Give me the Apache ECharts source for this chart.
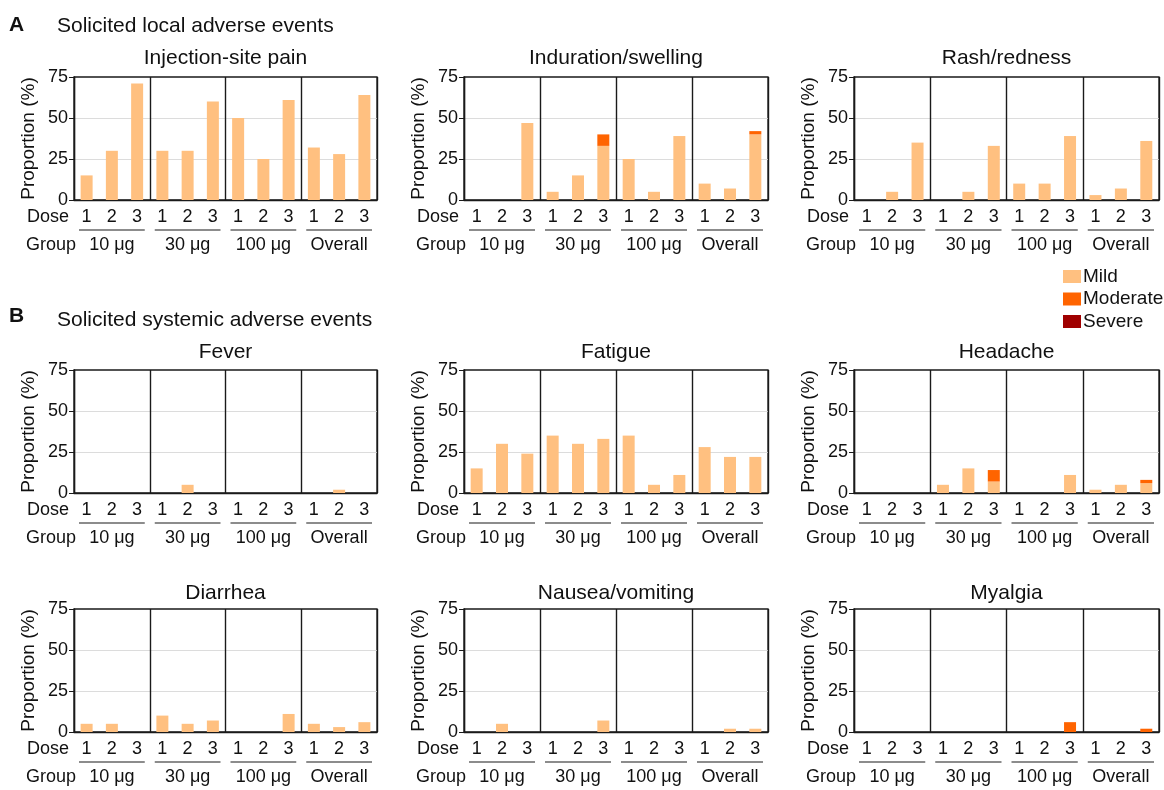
<!DOCTYPE html>
<html>
<head>
<meta charset="utf-8">
<script src="https://cdn.jsdelivr.net/npm/echarts@6/dist/echarts.min.js"></script>
<style>
  html, body { margin: 0; padding: 0; background: #fff; }
  #chart { width: 1164px; height: 790px; }
</style>
</head>
<body>
<div id="chart"></div>
<script>
const doses = ['1', '2', '3']
const groups = ['10 μg', '30 μg', '100 μg', 'Overall']
const yTicks = [0, 25, 50, 75]
const levels = ['Mild', 'Moderate', 'Severe']
const panelTitles = [
  'Injection-site pain', 'Induration/swelling', 'Rash/redness',
  'Fever', 'Fatigue', 'Headache',
  'Diarrhea', 'Nausea/vomiting', 'Myalgia'
]

// values per panel, in order 10 μg d1-d3, 30 μg d1-d3, 100 μg d1-d3, Overall d1-d3
const painMild = [15, 30, 71, 30, 30, 60, 50, 25, 61, 32, 28, 64]
const painModerate = [0, 0, 0, 0, 0, 0, 0, 0, 0, 0, 0, 0]
const swellingMild = [0, 0, 47, 5, 15, 33, 25, 5, 39, 10, 7, 40]
const swellingModerate = [0, 0, 0, 0, 0, 7, 0, 0, 0, 0, 0, 2]
const rashMild = [0, 5, 35, 0, 5, 33, 10, 10, 39, 3, 7, 36]
const rashModerate = [0, 0, 0, 0, 0, 0, 0, 0, 0, 0, 0, 0]
const feverMild = [0, 0, 0, 0, 5, 0, 0, 0, 0, 0, 2, 0]
const feverModerate = [0, 0, 0, 0, 0, 0, 0, 0, 0, 0, 0, 0]
const fatigueMild = [15, 30, 24, 35, 30, 33, 35, 5, 11, 28, 22, 22]
const fatigueModerate = [0, 0, 0, 0, 0, 0, 0, 0, 0, 0, 0, 0]
const headacheMild = [0, 0, 0, 5, 15, 7, 0, 0, 11, 2, 5, 6]
const headacheModerate = [0, 0, 0, 0, 0, 7, 0, 0, 0, 0, 0, 2]
const diarrheaMild = [5, 5, 0, 10, 5, 7, 0, 0, 11, 5, 3, 6]
const diarrheaModerate = [0, 0, 0, 0, 0, 0, 0, 0, 0, 0, 0, 0]
const nauseaMild = [0, 5, 0, 0, 0, 7, 0, 0, 0, 0, 2, 2]
const nauseaModerate = [0, 0, 0, 0, 0, 0, 0, 0, 0, 0, 0, 0]
const myalgiaMild = [0, 0, 0, 0, 0, 0, 0, 0, 0, 0, 0, 0]
const myalgiaModerate = [0, 0, 0, 0, 0, 0, 0, 0, 6, 0, 0, 2]
const severeAll = [0, 0, 0, 0, 0, 0, 0, 0, 0, 0, 0, 0]

const panelData = [
  [painMild, painModerate, severeAll],
  [swellingMild, swellingModerate, severeAll],
  [rashMild, rashModerate, severeAll],
  [feverMild, feverModerate, severeAll],
  [fatigueMild, fatigueModerate, severeAll],
  [headacheMild, headacheModerate, severeAll],
  [diarrheaMild, diarrheaModerate, severeAll],
  [nauseaMild, nauseaModerate, severeAll],
  [myalgiaMild, myalgiaModerate, severeAll]
]

const colors = ['#ffc080', '#ff6400', '#a00000']
const font = "'Liberation Sans', Arial, Helvetica, sans-serif"
const ink = '#111'

// layout of the 3x3 panels (px)
const colLeft = [74, 464, 854]
const colWidth = [303, 304, 305]
const rowTop = [77, 370, 609]
const rowHeight = 123
const titleY = [58, 352, 593]

const cats = []
groups.forEach((g) => doses.forEach((d) => cats.push(g + '|' + d)))

const grid = []
const xAxis = []
const yAxis = []
const series = []

panelTitles.forEach((t, i) => {
  const row = Math.floor(i / 3)
  const col = i % 3
  grid.push({
    left: colLeft[col],
    top: rowTop[row],
    width: colWidth[col],
    height: rowHeight,
    show: true,
    borderColor: '#1a1a1a',
    borderWidth: 1.3,
    backgroundColor: 'transparent'
  })
  xAxis.push({
    type: 'category',
    gridIndex: i,
    data: cats,
    axisLine: { lineStyle: { color: '#1a1a1a', width: 1.3 } },
    axisTick: { alignWithLabel: true, length: 5, interval: 0, lineStyle: { color: '#1a1a1a' } },
    axisLabel: {
      interval: 0,
      margin: 8,
      fontSize: 18,
      color: ink,
      fontFamily: font,
      formatter: (v) => v.split('|')[1]
    },
    splitLine: { show: false }
  })
  xAxis.push({
    type: 'category',
    gridIndex: i,
    position: 'bottom',
    offset: 30,
    data: groups,
    axisLine: { show: false },
    axisTick: { show: false, interval: 0 },
    axisLabel: { interval: 0, margin: 6, fontSize: 18, color: ink, fontFamily: font },
    splitLine: { show: true, interval: 0, lineStyle: { color: '#1a1a1a', width: 1.4 } }
  })
  yAxis.push({
    type: 'value',
    gridIndex: i,
    min: yTicks[0],
    max: yTicks[yTicks.length - 1],
    interval: 25,
    name: 'Proportion (%)',
    nameLocation: 'middle',
    nameGap: 36,
    nameTextStyle: { fontSize: 19, color: ink, fontFamily: font },
    axisLine: { show: true, lineStyle: { color: '#1a1a1a', width: 1.3 } },
    axisTick: { show: true, length: 5, lineStyle: { color: '#1a1a1a' } },
    axisLabel: { margin: 6, fontSize: 18, color: ink, fontFamily: font },
    splitLine: {
      show: true,
      showMinLine: false,
      showMaxLine: false,
      lineStyle: { color: '#dcdcdc', width: 1 }
    }
  })
  levels.forEach((name, k) => {
    series.push({
      name: name,
      type: 'bar',
      stack: 'p' + i,
      xAxisIndex: i * 2,
      yAxisIndex: i,
      barWidth: 12,
      data: panelData[i][k],
      itemStyle: { color: colors[k] },
      emphasis: { disabled: true }
    })
  })
})

const chart = echarts.init(document.getElementById('chart'), null, { renderer: 'canvas' })
chart.setOption({
  animation: false,
  backgroundColor: '#fff',
  textStyle: { fontFamily: font },
  legend: {
    data: levels,
    orient: 'vertical',
    left: 1063,
    top: 267,
    itemWidth: 18,
    itemHeight: 13,
    itemGap: 3.5,
    icon: 'rect',
    padding: 0,
    textStyle: { fontSize: 19, color: ink, fontFamily: font, padding: [0, 0, 0, -3] }
  },
  grid: grid,
  xAxis: xAxis,
  yAxis: yAxis,
  series: series
})

// texts and group underlines, placed from the axes' own scales
const graphic = []
const txt = (x, y, text, size, opts) => graphic.push({
  type: 'text',
  x: x,
  y: y,
  style: Object.assign({
    text: text,
    font: 'normal ' + size + 'px ' + font,
    fill: ink,
    textAlign: 'left',
    textVerticalAlign: 'middle'
  }, opts || {})
})

txt(9, 25, 'A', 21, { font: 'bold 21px ' + font })
txt(57, 26, 'Solicited local adverse events', 21)
txt(9, 316, 'B', 21, { font: 'bold 21px ' + font })
txt(57, 320, 'Solicited systemic adverse events', 21)

panelTitles.forEach((t, i) => {
  const row = Math.floor(i / 3)
  const col = i % 3
  const base = chart.convertToPixel({ yAxisIndex: i }, 0)
  const left = colLeft[col]
  txt(left + colWidth[col] / 2, titleY[row], t, 21, { textAlign: 'center' })
  txt(left - 47, base + 17, 'Dose', 18)
  txt(left - 48, base + 45, 'Group', 18)
  const c0 = chart.convertToPixel({ xAxisIndex: i * 2 + 1 }, groups[0])
  const c1 = chart.convertToPixel({ xAxisIndex: i * 2 + 1 }, groups[1])
  const w = c1 - c0
  groups.forEach((g) => {
    const c = chart.convertToPixel({ xAxisIndex: i * 2 + 1 }, g)
    graphic.push({
      type: 'line',
      shape: { x1: c - w / 2 + 5, y1: base + 30, x2: c + w / 2 - 5, y2: base + 30 },
      style: { stroke: '#1a1a1a', lineWidth: 1.2 }
    })
  })
})

chart.setOption({ graphic: graphic })
</script>
</body>
</html>
